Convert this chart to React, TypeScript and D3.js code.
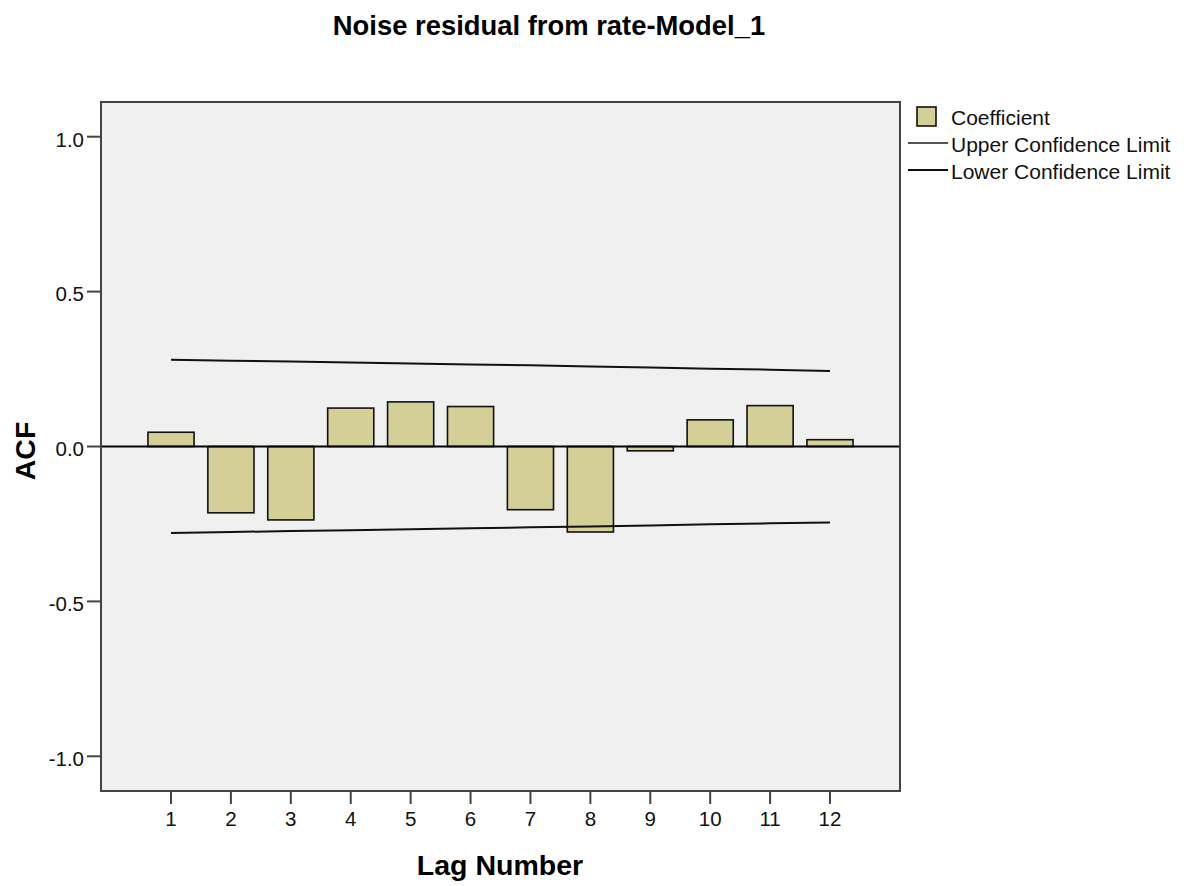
import React from "react";
import * as d3 from "d3";

const lags = [1, 2, 3, 4, 5, 6, 7, 8, 9, 10, 11, 12];
const coefficients = [0.046, -0.214, -0.237, 0.124, 0.144, 0.129, -0.204, -0.276, -0.014, 0.086, 0.132, 0.022];
const upperLimit = [0.28, 0.277, 0.274, 0.271, 0.268, 0.265, 0.262, 0.258, 0.255, 0.251, 0.248, 0.244];
const lowerLimit = [-0.279, -0.276, -0.273, -0.27, -0.267, -0.264, -0.261, -0.258, -0.255, -0.251, -0.248, -0.245];
const yTicks = [1.0, 0.5, 0.0, -0.5, -1.0];
const yTickLabels = ["1.0", "0.5", "0.0", "-0.5", "-1.0"];
const title = "Noise residual from rate-Model_1";
const xTitle = "Lag Number";
const yTitle = "ACF";
const legendItems = ["Coefficient", "Upper Confidence Limit", "Lower Confidence Limit"];

const W = 1188;
const H = 886;
const plot = { left: 101, right: 900, top: 102, bottom: 791 };
const FONT = "'Liberation Sans', Arial, sans-serif";
const BAR_FILL = "#d3cf97";

export default function App() {
  const step = (830 - 171) / 11;
  const x = d3
    .scaleLinear()
    .domain([1 - (171 - plot.left) / step, 12 + (plot.right - 830) / step])
    .range([plot.left, plot.right]);
  const y = d3.scaleLinear().domain([-1.112, 1.112]).range([plot.bottom, plot.top]);
  const barW = step * 0.77;

  const upperLine = d3
    .line<number>()
    .x((_, i) => x(lags[i]))
    .y((d) => y(d))(upperLimit) as string;
  const lowerLine = d3
    .line<number>()
    .x((_, i) => x(lags[i]))
    .y((d) => y(d))(lowerLimit) as string;

  return (
    <svg
      width={W}
      height={H}
      style={{ position: "absolute", left: 0, top: 0, background: "#fff" }}
      fontFamily={FONT}
    >
      <rect x={0} y={0} width={W} height={H} fill="#fff" />
      {/* title */}
      <text x={549} y={35} textAnchor="middle" fontSize={27.4} fontWeight="bold" fill="#000">
        {title}
      </text>

      {/* plot background */}
      <rect
        x={plot.left}
        y={plot.top}
        width={plot.right - plot.left}
        height={plot.bottom - plot.top}
        fill="#f0f0f0"
      />

      {/* bars */}
      {coefficients.map((v, i) => {
        const y0 = y(0);
        const y1 = y(v);
        return (
          <rect
            key={i}
            x={x(lags[i]) - barW / 2}
            y={Math.min(y0, y1)}
            width={barW}
            height={Math.max(Math.abs(y1 - y0), 1)}
            fill={BAR_FILL}
            stroke="#111"
            strokeWidth={1.6}
          />
        );
      })}

      {/* zero line */}
      <line x1={plot.left} x2={plot.right} y1={y(0)} y2={y(0)} stroke="#000" strokeWidth={2} />

      {/* confidence limits */}
      <path d={upperLine} fill="none" stroke="#111" strokeWidth={2} />
      <path d={lowerLine} fill="none" stroke="#111" strokeWidth={2} />

      {/* frame */}
      <rect
        x={plot.left}
        y={plot.top}
        width={plot.right - plot.left}
        height={plot.bottom - plot.top}
        fill="none"
        stroke="#444"
        strokeWidth={2}
      />

      {/* y ticks */}
      {yTicks.map((t, i) => (
        <g key={i}>
          <line x1={plot.left - 14} x2={plot.left} y1={y(t)} y2={y(t)} stroke="#444" strokeWidth={2} />
          <text x={plot.left - 17} y={y(t)} dy="0.48em" textAnchor="end" fontSize={20.5} fill="#111">
            {yTickLabels[i]}
          </text>
        </g>
      ))}

      {/* x ticks */}
      {lags.map((l) => (
        <g key={l}>
          <line x1={x(l)} x2={x(l)} y1={plot.bottom} y2={plot.bottom + 13} stroke="#444" strokeWidth={2} />
          <text x={x(l)} y={826} textAnchor="middle" fontSize={20.5} fill="#111">
            {String(l)}
          </text>
        </g>
      ))}

      {/* axis titles */}
      <text x={500} y={875} textAnchor="middle" fontSize={28.5} fontWeight="bold" fill="#000">
        {xTitle}
      </text>
      <text
        transform={`translate(35, 451) rotate(-90)`}
        textAnchor="middle"
        fontSize={28.5}
        fontWeight="bold"
        fill="#000"
      >
        {yTitle}
      </text>

      {/* legend */}
      <rect x={917} y={107} width={19} height={19} fill={BAR_FILL} stroke="#111" strokeWidth={1.6} />
      <text x={951} y={125} fontSize={21} fill="#111">
        {legendItems[0]}
      </text>
      <line x1={908} x2={948} y1={143} y2={143} stroke="#555" strokeWidth={2.2} />
      <text x={951} y={152} fontSize={21} fill="#111">
        {legendItems[1]}
      </text>
      <line x1={908} x2={948} y1={170} y2={170} stroke="#111" strokeWidth={1.8} />
      <text x={951} y={179} fontSize={21} fill="#111">
        {legendItems[2]}
      </text>
    </svg>
  );
}
